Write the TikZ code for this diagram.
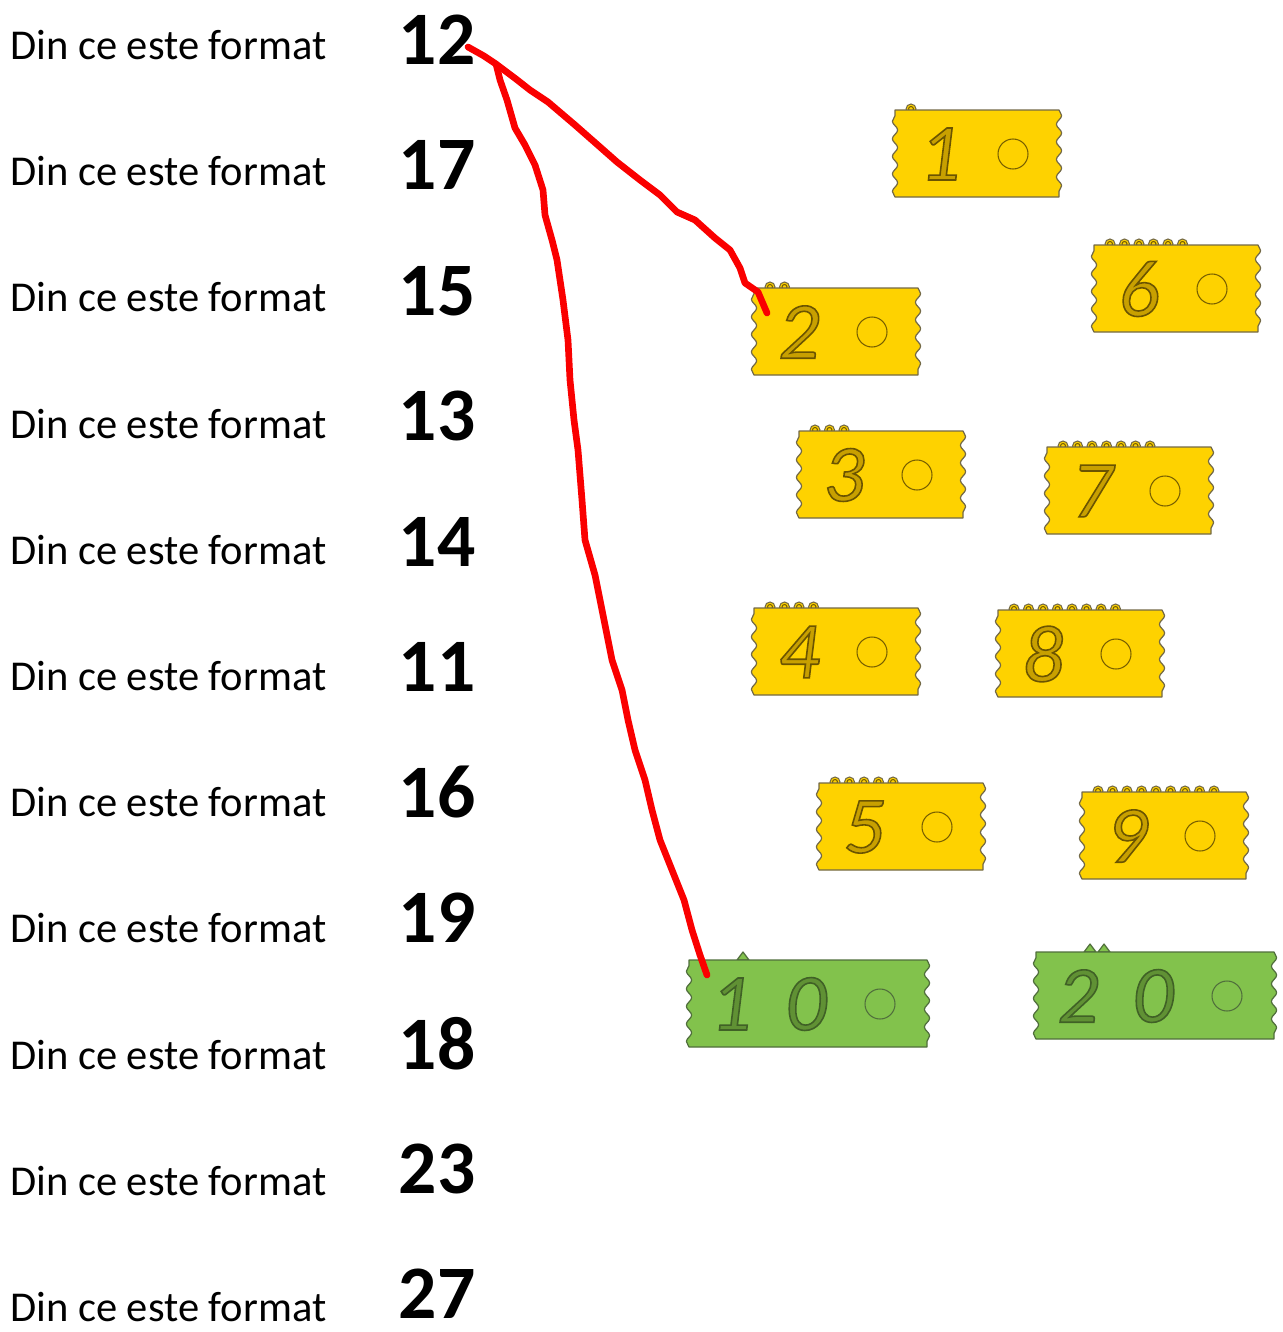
\documentclass[tikz,border=0pt]{standalone}
\usepackage{fontspec}
\setmainfont{Carlito}
\usetikzlibrary{decorations.pathmorphing}

\definecolor{ticketyellow}{RGB}{254,210,0}
\definecolor{ticketedge}{RGB}{115,105,70}
\definecolor{golddigit}{RGB}{200,160,0}
\definecolor{golddark}{RGB}{120,95,0}
\definecolor{ticketgreen}{RGB}{130,194,76}
\definecolor{greenedge}{RGB}{80,110,60}
\definecolor{greendigit}{RGB}{96,145,52}
\definecolor{inkred}{RGB}{250,0,0}

% outlined digits
\newcommand{\inked}[2]{\special{pdf:literal direct #1 RG 0.9 w 2 Tr}#2\special{pdf:literal direct 0 Tr}}

\tikzset{
  rowtext/.style={anchor=west, inner sep=0pt, font=\fontsize{24.2}{28}\selectfont},
  rownum/.style={inner sep=0pt, font=\fontsize{43}{48}\selectfont\bfseries},
  yellowcard/.style={fill=ticketyellow, draw=ticketedge, line width=0.7pt, line join=round,
    decoration={snake, amplitude=1.5pt, segment length=10pt}},
  greencard/.style={yellowcard, fill=ticketgreen, draw=greenedge},
  bump/.style={fill=ticketyellow, draw=ticketedge, line width=0.6pt},
  carddigit/.style={inner sep=0pt, text=golddigit, font=\fontsize{46}{50}\selectfont\itshape},
  greendigitstyle/.style={carddigit, text=greendigit},
  ring/.style={draw=golddark, line width=0.6pt},
  greenring/.style={draw=greenedge, line width=0.6pt},
  redstroke/.style={draw=inkred, line width=3.8pt, line cap=round, line join=round}
}

% yellow ticket: name, left, top, digit, bumps
\newcommand{\yticket}[5]{%
  \foreach \b in {1,...,#5} {
    \draw[bump] ({#2+1.5+14.5*\b},#3-1) circle (5);
    \draw[ring] ({#2+1.5+14.5*\b},#3-1) circle (2.5);
  }
  \draw[yellowcard] (#2,#3) -- ++(164,0) decorate{-- ++(0,87)} -- ++(-164,0) decorate{-- ++(0,-87)} -- cycle;
  \node[carddigit] (#1) at (#2+45,#3+44) {\inked{0.42 0.33 0}{#4}};
  \draw[ring] (#2+118,#3+44) circle (15);
}

% green ticket: name, left, top, first digit, marks
\newcommand{\gticket}[5]{%
  \foreach \b in {1,...,#5}
    \draw[greencard] ({#2+40+14*\b},#3-8) -- ++(-6,8) -- ++(12,0) -- cycle;
  \draw[greencard] (#2,#3) -- ++(238,0) decorate{-- ++(0,87)} -- ++(-238,0) decorate{-- ++(0,-87)} -- cycle;
  \node[greendigitstyle] (#1a) at (#2+42,#3+44) {\inked{0.25 0.38 0.15}{#4}};
  \node[greendigitstyle] (#1b) at (#2+117,#3+44) {\inked{0.25 0.38 0.15}{0}};
  \draw[greenring] (#2+191,#3+44) circle (15);
}

\begin{document}
\begin{tikzpicture}[x=0.02cm, y=-0.02cm]
  \useasboundingbox (0,0) rectangle (1283,1332);

  % rows on the left
  \foreach \n [count=\i from 0] in {12,17,15,13,14,11,16,19,18,23,27} {
    \node[rowtext] (t\n) at (10,45+126.2*\i) {Din ce este format};
    \node[rownum] (n\n) at (437,40+125.4*\i) {\n};
  }

  % tickets
  \yticket{c1}{895}{110}{1}{1}
  \yticket{c2}{754}{288}{2}{2}
  \yticket{c6}{1094}{245}{6}{6}
  \yticket{c3}{799}{431}{3}{3}
  \yticket{c7}{1047}{447}{7}{7}
  \yticket{c4}{754}{608}{4}{4}
  \yticket{c8}{998}{610}{8}{8}
  \yticket{c5}{819}{783}{5}{5}
  \yticket{c9}{1082}{792}{9}{9}
  \gticket{c10}{689}{960}{1}{1}
  \gticket{c20}{1036}{952}{2}{2}

  % red strokes
  \coordinate (s12) at (468,47);
  \coordinate (fork) at (496,64);
  \coordinate (e2) at (767,313);
  \coordinate (e10) at (707,975);
  \draw[redstroke] (s12) -- (484,56) -- (fork) -- (516,79) -- (530,90) -- (548,102) -- (575,125)
    -- (600,147) -- (617,162) -- (640,180) -- (660,195) -- (677,212) -- (695,220) -- (715,238)
    -- (730,250) -- (740,268) -- (745,283) -- (758,292) -- (e2);
  \draw[redstroke] (fork) -- (500,80) -- (507,100) -- (515,128) -- (525,145) -- (535,165)
    -- (543,190) -- (545,215) -- (552,240) -- (557,260) -- (563,300) -- (568,340) -- (570,380)
    -- (574,420) -- (578,450) -- (582,500) -- (585,540) -- (595,575) -- (600,600) -- (606,630)
    -- (612,660) -- (622,690) -- (628,720) -- (635,750) -- (645,780) -- (652,810) -- (660,840)
    -- (672,870) -- (684,900) -- (692,930) -- (700,955) -- (e10);
\end{tikzpicture}
\end{document}
